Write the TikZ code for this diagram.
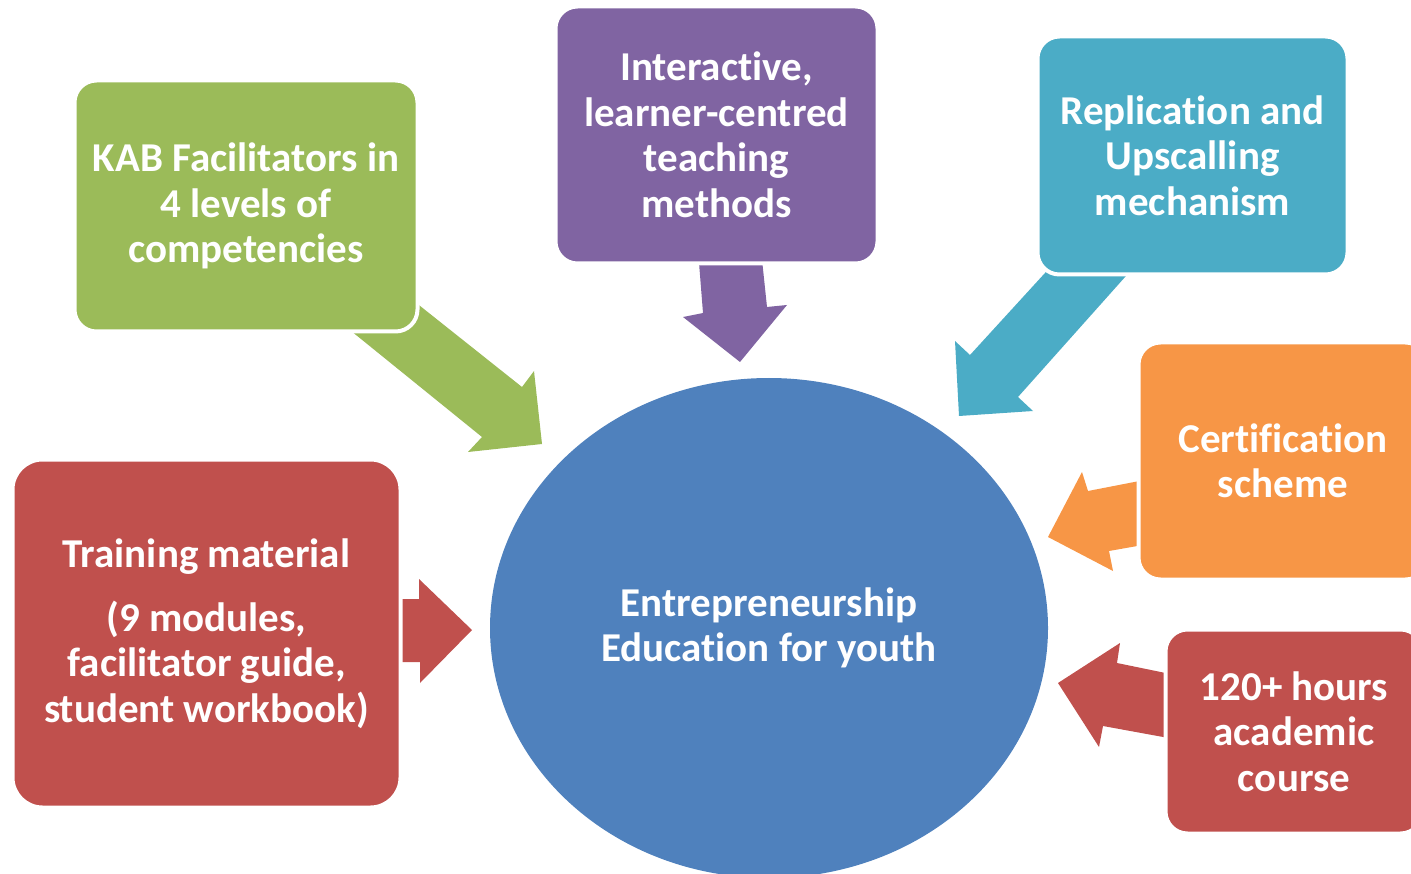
\documentclass[tikz,border=0pt]{standalone}
\usepackage{fontspec}
\setmainfont{Carlito}[RawFeature={-liga;-clig;-dlig}]
\usetikzlibrary{shapes.geometric}
\definecolor{cgreen}{HTML}{9BBB59}
\definecolor{cpurple}{HTML}{8064A2}
\definecolor{cteal}{HTML}{4BACC6}
\definecolor{corange}{HTML}{F79646}
\definecolor{cred}{HTML}{C0504D}
\definecolor{cblue}{HTML}{4F81BD}
\tikzset{
  boxnode/.style={rectangle, rounded corners=22pt, draw=white, line width=4pt,
    inner sep=0pt, text=white, align=center,
    font=\fontsize{41}{45.5}\selectfont\bfseries},
  hubnode/.style={ellipse, fill=cblue, inner sep=0pt, text=white, align=center,
    minimum width=558pt, minimum height=500pt,
    font=\fontsize{41}{45}\selectfont\bfseries},
}
\begin{document}
\begin{tikzpicture}[x=1pt,y=-1pt]
\useasboundingbox (0,0) rectangle (1411,874);
\clip (0,0) rectangle (1411,874);
% hub
\node[hubnode] (hub) at (769,628) {Entrepreneurship\\Education for youth};
% arrows
\fill[cgreen] (340,322) -- (482,437) -- (468,452) -- (542,444) -- (534,371) -- (522,387) -- (400,290) -- cycle;
\fill[cpurple] (698,250) -- (703,313) -- (683,317) -- (740,362) -- (787,305) -- (767,307) -- (761,250) -- cycle;
\fill[cteal] (1066,250) -- (970,355) -- (955,341) -- (959,416) -- (1033,411) -- (1018,397) -- (1142,258) -- cycle;
\fill[corange] (1160,477) -- (1088,491) -- (1082,472) -- (1048,537) -- (1113,571) -- (1109,551) -- (1160,542) -- cycle;
\fill[cred] (380,599) -- (419,599) -- (419,579) -- (472,630) -- (420,683) -- (420,662) -- (380,662) -- cycle;
\fill[cred] (1185,677) -- (1117,663) -- (1120,643) -- (1058,683) -- (1099,747) -- (1103,726) -- (1185,741) -- cycle;
% boxes
\node[boxnode, fill=cgreen, minimum width=343pt, minimum height=251pt] (kab) at (246,206)
  {KAB Facilitators in\\4 levels of\\competencies};
\node[boxnode, fill=cpurple, minimum width=322pt, minimum height=257pt] (inter) at (716.5,135)
  {Interac{t\kern0pt i}ve,\\learner-centred\\teaching\\methods};
\node[boxnode, fill=cteal, minimum width=310pt, minimum height=238pt] (repl) at (1192.5,155.5)
  {Replication and\\Upscalling\\mechanism};
\node[boxnode, fill=corange, minimum width=289pt, minimum height=237pt] (cert) at (1283,461)
  {Cer{t\kern0pt i}fica{t\kern0pt i}on\\scheme};
\node[boxnode, fill=cred, rounded corners=30pt, minimum width=388pt, minimum height=348pt] (train) at (206.5,633.5)
  {Training material\\[18pt](9 modules,\\facilitator guide,\\student workbook)};
\node[boxnode, fill=cred, minimum width=257pt, minimum height=204pt] (hours) at (1294,731.5)
  {120+ hours\\academic\\course};
\end{tikzpicture}
\end{document}
